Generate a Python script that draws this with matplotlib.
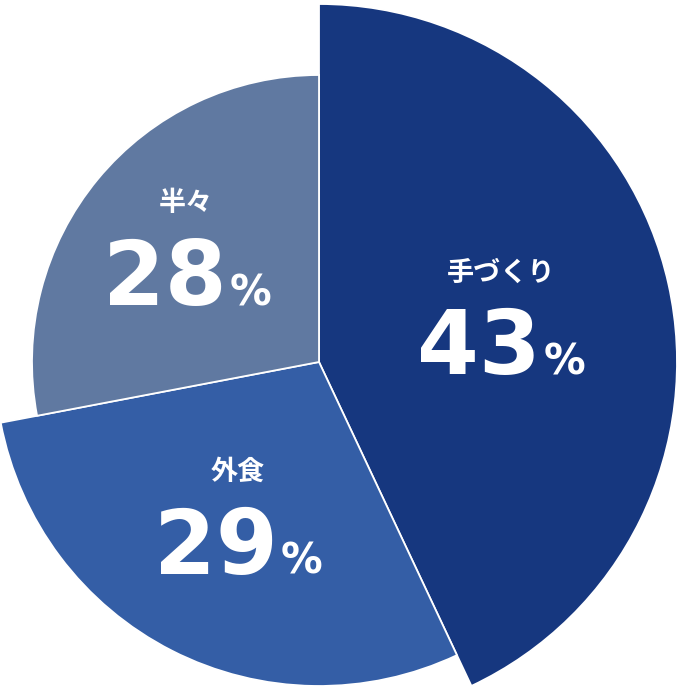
import numpy as np
import matplotlib
matplotlib.use("Agg")
import matplotlib.pyplot as plt
from matplotlib.patches import Wedge

labels = ["手づくり", "外食", "半々"]
values = [43, 29, 28]
radii = [358, 324, 287]
colors = ["#16377f", "#345ea6", "#6079a1"]
label_dist = [0.52, 0.55, 0.60]

cx, cy = 319, 362

fig = plt.figure(figsize=(6.8, 6.86), dpi=100)
ax = fig.add_axes([0, 0, 1, 1])
ax.set_xlim(0, 680)
ax.set_ylim(686, 0)
ax.axis("off")

jp = ["Noto Sans CJK JP", "DejaVu Sans"]
num = ["DejaVu Sans"]

start = 0.0
total = sum(values)
for lab, v, r, c, d in zip(labels, values, radii, colors, label_dist):
    span = 360.0 * v / total
    # clockwise from 12 o'clock on screen (y axis inverted)
    w = Wedge((cx, cy), r, start - 90, start + span - 90,
              facecolor=c, edgecolor="white", linewidth=1.3)
    ax.add_patch(w)
    mid = np.deg2rad(start + span / 2 - 90)
    lx = cx + d * r * np.cos(mid)
    ly = cy + d * r * np.sin(mid)
    ax.text(lx, ly - 49, lab, color="white", fontsize=19.5, fontweight="bold",
            family=jp, ha="center", va="center")
    ax.text(lx + 40, ly + 53, str(v), color="white", fontsize=64,
            fontweight="bold", family=num, ha="right", va="baseline")
    ax.text(lx + 43, ly + 53, "%", color="white", fontsize=30,
            fontweight="bold", family=num, ha="left", va="baseline")
    start += span

fig.savefig("out.png", dpi=100)
